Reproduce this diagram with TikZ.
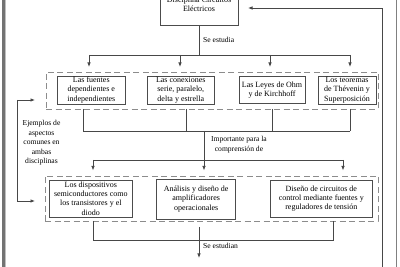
\documentclass[tikz,border=0pt]{standalone}
\usepackage{fontspec}
\setmainfont{Liberation Serif}
\usetikzlibrary{arrows.meta}
\begin{document}
\begin{tikzpicture}[x=1pt,y=-1pt,
  box/.style={draw=black!70, line width=0.9pt, align=center, inner sep=0pt, font=\fontsize{8}{9.4}\selectfont},
  grp/.style={draw=black!45, line width=0.9pt, dash pattern=on 6pt off 3.5pt, inner sep=0pt},
  conn/.style={draw=black!72, line width=0.8pt},
  arr/.style={conn, -{Latex[length=4.5pt,width=3.6pt]}},
  lbl/.style={align=center, inner sep=0pt, font=\fontsize{7.6}{9.4}\selectfont}]
\useasboundingbox (0,0) rectangle (400,267);
\fill[white] (0,0) rectangle (400,267);
% page edge artifacts
\fill[black!55] (2,0) rectangle (5,267);
\fill[black!25] (5,0) rectangle (6,267);
\draw[black!50, line width=0.8pt] (396,0) -- (396,267);

% top box
\node[box, minimum width=78, minimum height=38, anchor=south] (top) at (199,25.7) {};
\node[lbl, font=\fontsize{8}{9}\selectfont] (toptext) at (199,4.5) {Disciplina Circuitos\\Eléctricos};

% group 1
\node[grp, minimum width=332, minimum height=37] (g1) at (212,90.5) {};
\node[box, minimum width=67.3, minimum height=28] (b1) at (91.3,90) {Las fuentes\\dependientes e\\independientes};
\node[box, minimum width=66.3, minimum height=28] (b2) at (180.8,90) {Las conexiones\\serie, paralelo,\\delta y estrella};
\node[box, minimum width=66, minimum height=26.3] (b3) at (272,90) {Las Leyes de Ohm\\y de Kirchhoff};
\node[box, minimum width=58, minimum height=28] (b4) at (347,90) {Los teoremas\\de Thévenin y\\Superposición};

% group 2
\node[grp, minimum width=333, minimum height=45] (g2) at (211.5,198.5) {};
\node[box, minimum width=83.7, minimum height=37] (c1) at (90.8,198.5) {Los dispositivos\\semiconductores como\\los transistores y el\\diodo};
\node[box, minimum width=79, minimum height=40] (c2) at (196.2,199) {Análisis y diseño de\\amplificadores\\operacionales};
\node[box, minimum width=102.7, minimum height=37] (c3) at (321.3,198.5) {Diseño de circuitos de\\control mediante fuentes y\\reguladores de tensión};

% labels
\node[lbl, anchor=west] (l1) at (203,40) {Se estudia};
\node[lbl] (l2) at (239,144.5) {Importante para la\\comprensión de};
\node[lbl, anchor=west] (l3) at (203,246) {Se estudian};
\node[lbl] (l4) at (41.5,142.8) {Ejemplos de\\aspectos\\comunes en\\ambas\\disciplinas};

% top -> row 1
\coordinate (s1) at (199,55);
\coordinate (h1a) at (89,55);
\coordinate (h1b) at (350,55);
\draw[conn] (top.south) -- (s1);
\draw[conn] (h1a) -- (h1b);
\foreach \x/\n in {89/1,180/2,270/3,350/4}{
  \coordinate (p\n) at (\x,55);
  \coordinate (q\n) at (\x,67);
  \draw[arr] (p\n) -- (q\n);
}

% row 1 -> row 2
\foreach \x/\n in {83/1,186/2,272/3,350/4}{
  \coordinate (u\n) at (\x,109);
  \coordinate (w\n) at (\x,131);
  \draw[conn] (u\n) -- (w\n);
}
\draw[conn] (w1) -- (w4);
\coordinate (m1) at (204,131);
\coordinate (m2) at (204,170.5);
\draw[arr] (m1) -- (m2);
\coordinate (k1) at (93,160);
\coordinate (k2) at (343,160);
\coordinate (k1e) at (93,170.5);
\coordinate (k2e) at (343,170.5);
\draw[conn] (k1) -- (k2);
\draw[arr] (k1) -- (k1e);
\draw[arr] (k2) -- (k2e);

% row 2 -> bottom
\coordinate (r1) at (93,221);
\coordinate (r2) at (333,221);
\coordinate (r1b) at (93,240);
\coordinate (r2b) at (333,240);
\draw[conn] (r1) -- (r1b) -- (r2b) -- (r2);
\coordinate (n1) at (199,227);
\coordinate (n2) at (199,258);
\draw[arr] (n1) -- (n2);

% left bracket
\coordinate (e1) at (35,100);
\coordinate (e0) at (17,100);
\coordinate (e2) at (17,201);
\coordinate (e3) at (35,201);
\draw[arr] (e0) -- (e1);
\draw[arr] (e0) -- (e2) -- (e3);

% right feedback
\coordinate (f0) at (382,267);
\coordinate (f1) at (382,8);
\coordinate (f2) at (248,8);
\draw[arr] (f0) -- (f1) -- (f2);
\end{tikzpicture}
\end{document}
